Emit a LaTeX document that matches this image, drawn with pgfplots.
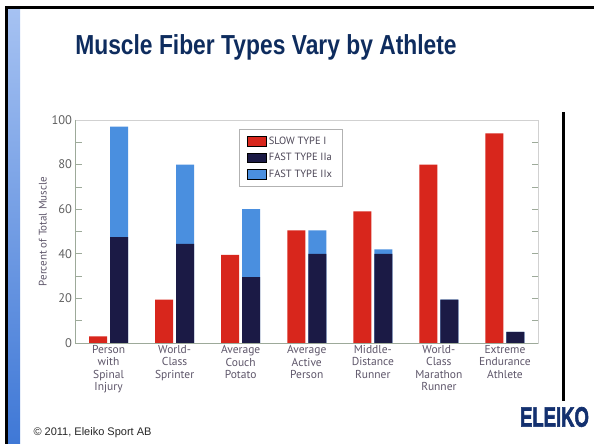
\documentclass[border=0pt]{standalone}
\usepackage{pgfplots}
\pgfplotsset{compat=1.18}
\usepackage{pgfplotstable}
\usepackage{fontspec}
\setmainfont{Liberation Sans}
\newfontfamily\chartfont{PT Sans}
\newfontfamily\logofont[FakeBold=2.5]{Liberation Sans Bold}
\definecolor{slowred}{HTML}{D8261C}
\definecolor{fastnavy}{HTML}{1B1A45}
\definecolor{fastblue}{HTML}{4A8FDF}
\definecolor{titleblue}{HTML}{0E2C5E}
\definecolor{labelgray}{HTML}{5E566A}
\definecolor{logoblue}{HTML}{13306F}
\definecolor{axisgreen}{HTML}{9DAA9A}
\definecolor{stripetop}{HTML}{A6C2F2}
\definecolor{stripebot}{HTML}{3F78D6}

\pgfplotstableread{
x slow IIa IIx
0 3    47.5 49.5
1 19.5 44.5 35.5
2 39.5 29.5 30.5
3 50.5 40   10.5
4 59   40   2
5 80   19.5 0
6 94   5    0
}\datatable

\begin{document}
\begin{tikzpicture}[x=1pt,y=1pt]
\fill[white] (0,0) rectangle (594,444);
% slide frame
\shade[top color=stripetop, bottom color=stripebot] (7.5,0) rectangle (20,435.5);
\fill[black] (4.5,0) rectangle (7.5,437.5);
\fill[black] (4.5,435) rectangle (594,437.5);
% title
\node[text=titleblue, font=\bfseries\fontsize{27.5}{30}\selectfont, xscale=0.83] at (266,397) {Muscle Fiber Types Vary by Athlete};
% vertical rule
\fill[black] (562,43) rectangle (564.5,332);
% footer
\node[anchor=west, font=\fontsize{11}{12}\selectfont, text=black!85] at (30,11) {\textcopyright{} 2011, Eleiko Sport AB};
\node[text=logoblue, font=\logofont\fontsize{28}{28}\selectfont, xscale=0.66] at (554.5,27) {ELEIKO};

\begin{axis}[
  at={(75.5pt,101pt)}, anchor=south west,
  scale only axis, width=462.5pt, height=223pt,
  xmin=-0.5, xmax=6.5, ymin=0, ymax=100,
  xtick={0,...,6},
  xticklabels={{Person\\with\\Spinal\\Injury},{World-\\Class\\Sprinter},{Average\\Couch\\Potato},{Average\\Active\\Person},{Middle-\\Distance\\Runner},{World-\\Class\\Marathon\\Runner},{Extreme\\Endurance\\Athlete}},
  xtick style={draw=none},
  xticklabel style={align=center, font=\chartfont\fontsize{11.5}{12.3}\selectfont, text=labelgray, yshift=1pt},
  ytick={0,20,...,100}, minor ytick={10,30,...,90},
  tick align=inside, major tick length=6pt, minor tick length=6pt,
  ytick style={draw=axisgreen, line width=0.7pt},
  minor tick style={draw=axisgreen, line width=0.7pt},
  yticklabel style={font=\chartfont\fontsize{12.5}{12.5}\selectfont, text=black!62},
  /pgf/number format/assume math mode=true,
  ylabel={Percent of Total Muscle},
  ylabel style={font=\chartfont\fontsize{11}{11}\selectfont, text=labelgray, yshift=-2pt},
  axis line style={draw=black!18, line width=0.8pt},
  after end axis/.code={
    \draw[axisgreen, line width=0.9pt] (rel axis cs:0,1) -- (rel axis cs:0,0) -- (rel axis cs:1,0);
  },
  legend style={at={(0.354,0.96)}, anchor=north west, draw=black!30, fill=white,
    font=\chartfont\fontsize{10.5}{11}\selectfont, text=labelgray!80!black,
    inner xsep=8pt, inner ysep=5.5pt, row sep=3.5pt},
  legend cell align=left,
  legend image code/.code={\fill[#1] (0pt,-4.8pt) rectangle (19pt,4.8pt);},
]
\addplot[ybar, bar width=18pt, bar shift=-10.5pt, fill=slowred, draw=none, forget plot] table[x=x, y=slow]{\datatable};
\addplot[ybar, bar width=18pt, bar shift=10.5pt, fill=fastblue, draw=none, forget plot] table[x=x, y expr=\thisrow{IIa}+\thisrow{IIx}]{\datatable};
\addplot[ybar, bar width=18pt, bar shift=10.5pt, fill=fastnavy, draw=none, forget plot] table[x=x, y=IIa]{\datatable};
\addlegendimage{fill=slowred}
\addlegendentry{SLOW TYPE I}
\addlegendimage{fill=fastnavy}
\addlegendentry{FAST TYPE IIa}
\addlegendimage{fill=fastblue}
\addlegendentry{FAST TYPE IIx}
\end{axis}
\end{tikzpicture}
\end{document}
